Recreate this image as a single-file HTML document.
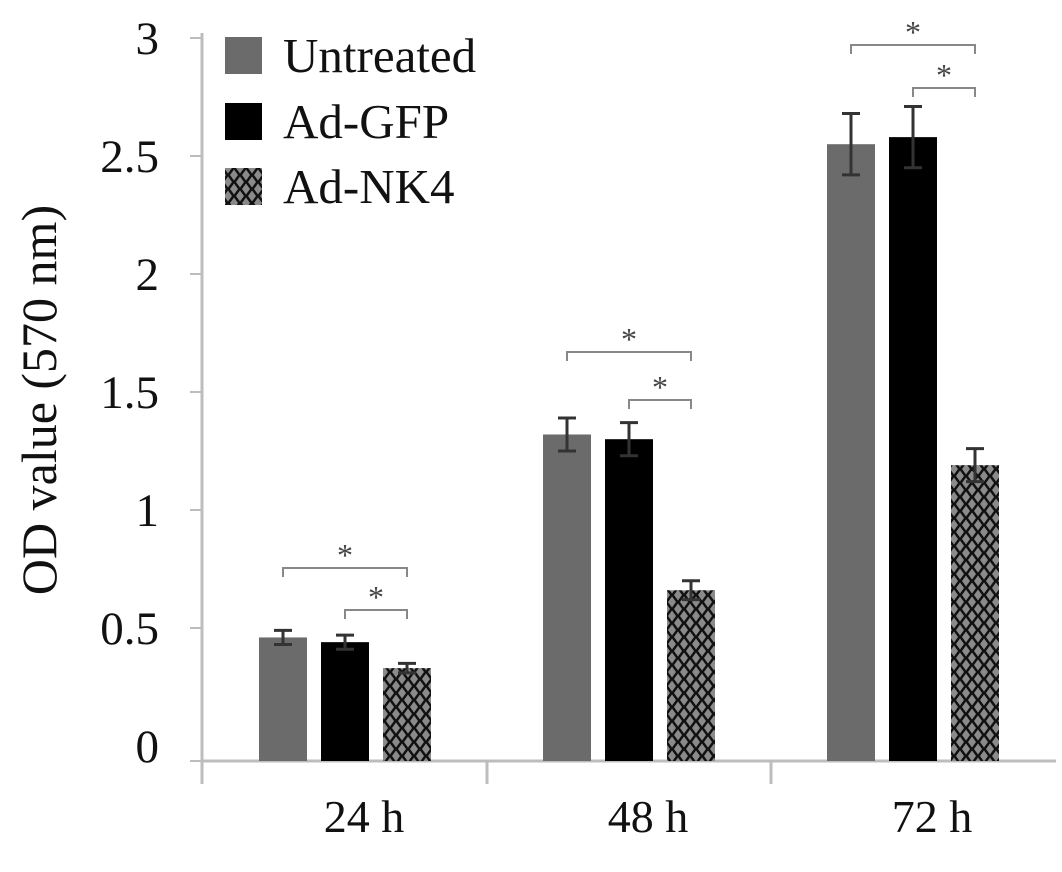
<!DOCTYPE html>
<html><head><meta charset="utf-8"><style>
body{margin:0;background:#fff;}
svg{display:block;font-family:"Liberation Serif",serif;}
</style></head><body>
<svg id="chart" width="1062" height="872" viewBox="0 0 1062 872">
<defs>
<pattern id="chk" width="12" height="14" patternUnits="userSpaceOnUse">
<rect width="12" height="14" fill="#111"/>
<path d="M6,1.5 L10,7 L6,12.5 L2,7 Z" fill="#8a8a8a"/>
<path d="M0,-5.5 L4,0 L0,5.5 L-4,0 Z M12,-5.5 L16,0 L12,5.5 L8,0 Z M0,8.5 L4,14 L0,19.5 L-4,14 Z M12,8.5 L16,14 L12,19.5 L8,14 Z" fill="#8a8a8a"/>
</pattern>
</defs>
<g id="axes"></g>
<g id="bars"></g>
<g id="sig"></g>
<text transform="translate(56,400) rotate(-90)" text-anchor="middle" font-size="50" fill="#111">OD value (570 nm)</text>
<g>
<rect x="225" y="37" width="37" height="37" fill="#6b6b6b"/>
<text x="283" y="72" font-size="49" fill="#111">Untreated</text>
<rect x="225" y="103" width="37" height="37" fill="#000"/>
<text x="283" y="138" font-size="49" fill="#111">Ad-GFP</text>
<rect x="225" y="168" width="37" height="37" fill="url(#chk)"/>
<text x="283" y="203" font-size="49" fill="#111">Ad-NK4</text>
</g>
</svg>
<script>
const categories=["24 h","48 h","72 h"];
const untreated=[0.46,1.32,2.55];
const adGFP=[0.44,1.30,2.58];
const adNK4=[0.33,0.66,1.19];
const errUntreated=[0.03,0.07,0.13];
const errGFP=[0.03,0.07,0.13];
const errNK4=[0.02,0.04,0.07];
const yTicks=[0,0.5,1,1.5,2,2.5,3];
const yTickLabels=["0","0.5","1","1.5","2","2.5","3"];

const NS="http://www.w3.org/2000/svg";
const y0=746, pxPerUnit=236, baseY=761;
function y(v){return y0-v*pxPerUnit;}
function gx(i){return 345+i*284;}
function mk(tag,attrs,parent,txt){const e=document.createElementNS(NS,tag);for(const k in attrs)e.setAttribute(k,attrs[k]);if(txt!==undefined)e.textContent=txt;parent.appendChild(e);return e;}
const axes=document.getElementById('axes'),bars=document.getElementById('bars'),sig=document.getElementById('sig');
let a=mk('line',{x1:202,y1:33,x2:202,y2:784,stroke:'#bdbdbd','stroke-width':3},axes);


a=mk('line',{x1:202,y1:baseY,x2:1056,y2:baseY,stroke:'#bdbdbd','stroke-width':3},axes);


categories.forEach((c,i)=>{
  if(i===0)return;
  const sx=(gx(i-1)+gx(i))/2;
  const s=mk('line',{x1:sx,y1:baseY,x2:sx,y2:784,stroke:'#bdbdbd','stroke-width':3},axes);
  
  
});
yTicks.forEach((t,i)=>{
  const ty=t===0?baseY:y(t);
  const tk=mk('line',{x1:190,y1:ty,x2:202,y2:ty,stroke:'#bdbdbd','stroke-width':2},axes);
  
  
  const lb=mk('text',{x:159,y:y(t)+16,'text-anchor':'end','font-size':47,fill:'#111'},axes,yTickLabels[i]);
  
  
});
categories.forEach((c,i)=>{
  const lb=mk('text',{x:gx(i)+19,y:832,'text-anchor':'middle','font-size':46,fill:'#111'},axes,c);
  
  
});
const series=[[untreated,errUntreated,'#6b6b6b','untreated'],[adGFP,errGFP,'#000','ad-gfp'],[adNK4,errNK4,'url(#chk)','ad-nk4']];
const bw=48, step=62;
categories.forEach((c,i)=>{
  series.forEach((s,j)=>{
    const v=s[0][i], e=s[1][i];
    const cx=gx(i)+(j-1)*step;
    const r=mk('rect',{x:cx-bw/2,y:y(v),width:bw,height:baseY-y(v),fill:s[2]},bars);
    
    
    const g=mk('path',{d:`M${cx},${y(v+e)}V${y(v-e)}M${cx-9},${y(v+e)}H${cx+9}M${cx-9},${y(v-e)}H${cx+9}`,stroke:'#333','stroke-width':3,fill:'none'},bars);
    
    
  });
  const bigY=[568,352,45][i], smallY=[610,400,88][i];
  [[gx(i)-step,bigY],[gx(i),smallY]].forEach(([xa,yy])=>{
    const xb=gx(i)+step;
    const p=mk('path',{d:`M${xa},${yy+9}V${yy}H${xb}V${yy+9}`,stroke:'#888','stroke-width':2,fill:'none'},sig);
    
    
    const st=mk('text',{x:(xa+xb)/2,y:yy-2,'text-anchor':'middle','font-size':32,fill:'#444'},sig,'*');
    
    
  });
});
</script>
</body></html>
